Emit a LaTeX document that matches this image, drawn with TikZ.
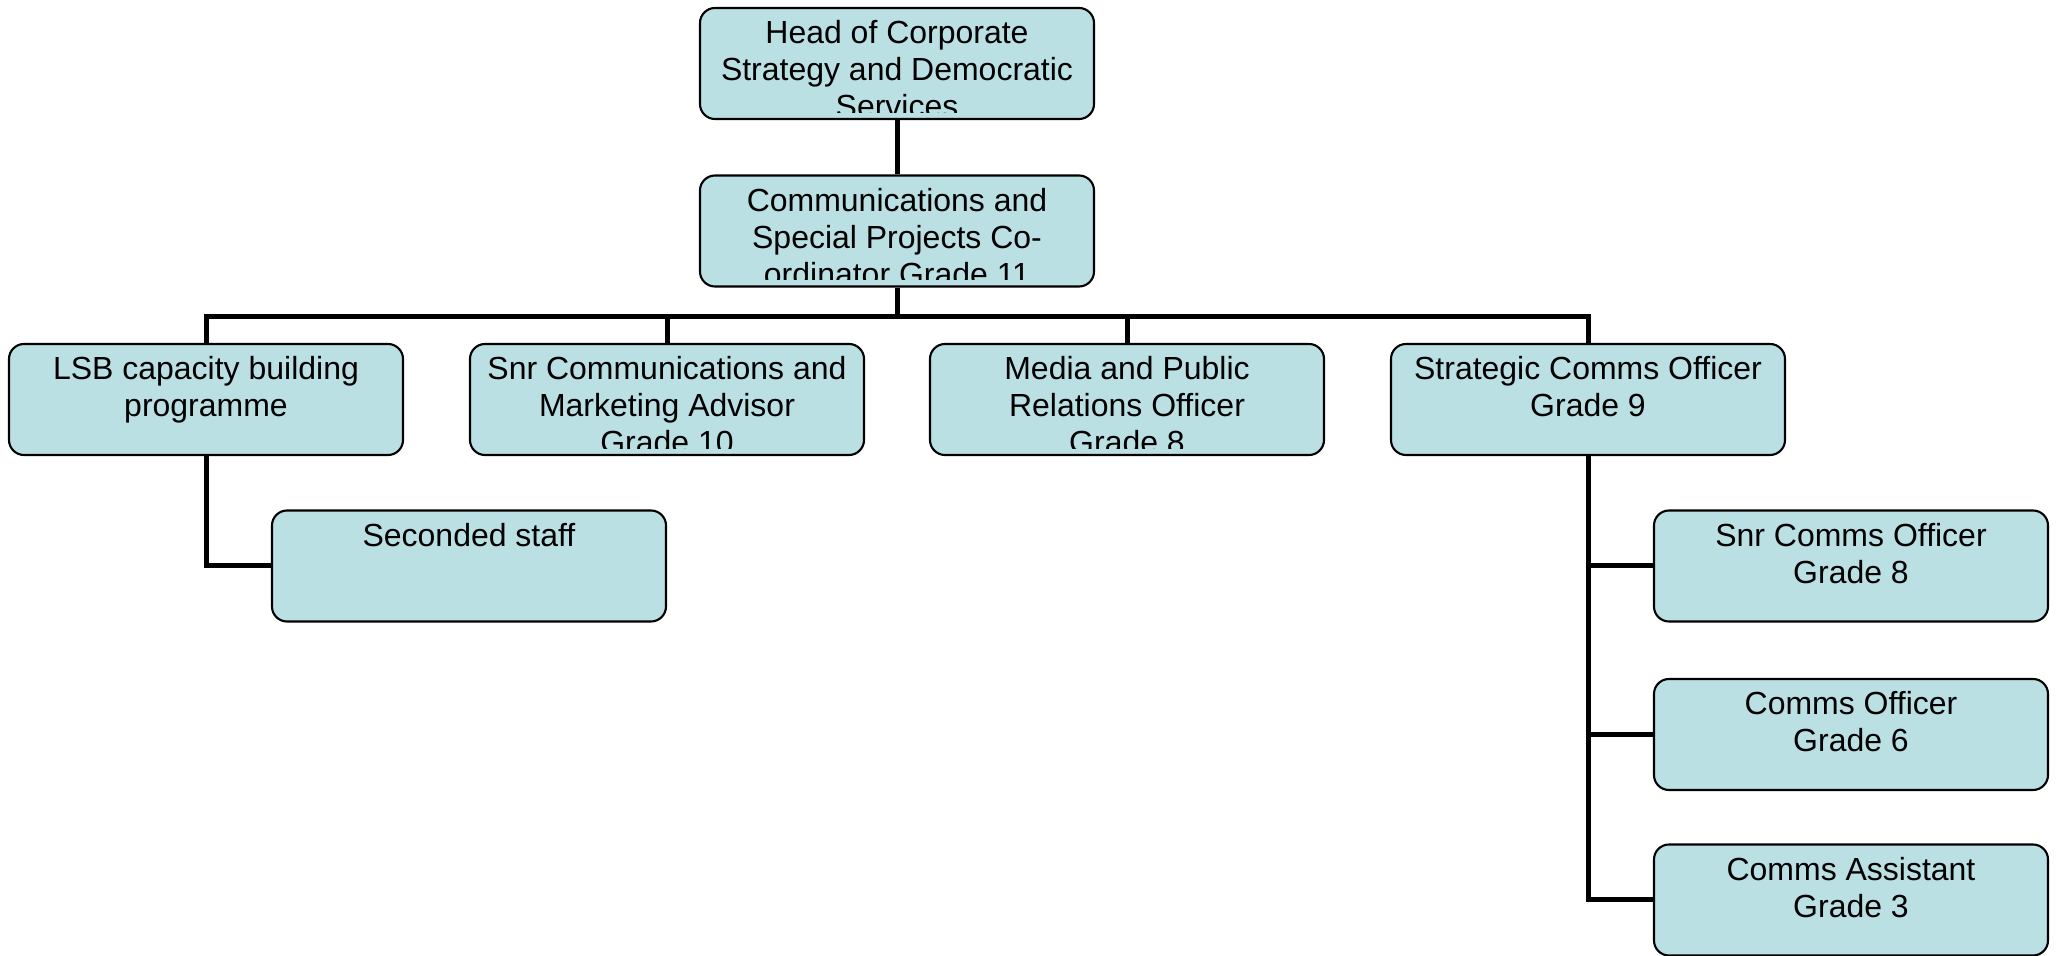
\documentclass[tikz,border=0pt]{standalone}
\usepackage{fontspec}
\setmainfont{Liberation Sans}
\usepackage{tikz}
\usetikzlibrary{positioning,calc}
\definecolor{boxblue}{RGB}{186,224,228}
\newcommand{\postfont}{\fontsize{9.1}{10.5}\selectfont}

\begin{document}
\begin{tikzpicture}[
  post/.style={rectangle, draw=black, line width=0.6pt, fill=boxblue, rounded corners=0.15cm,
    minimum width=3.94cm, minimum height=1.11cm, inner sep=0pt,
    path picture={
      \clip ([yshift=0.065cm]path picture bounding box.south west) rectangle (path picture bounding box.north east);
      \node[anchor=north, align=center, inner sep=0pt, minimum width=0pt, minimum height=0pt,
        draw=none, fill=none, font=\postfont]
        at ([yshift=-0.115cm]path picture bounding box.north) {#1};
    }},
  link/.style={line width=0.05cm}
]
\useasboundingbox (0,0) rectangle (20.6,-9.56);
\node[post={Head of Corporate\\Strategy and Democratic\\Services}] (head) at (8.97,-0.635) {};
\node[post={Communications and\\Special Projects Co-\\ordinator Grade 11}] (coord) at (8.97,-2.31) {};
\node[post={LSB capacity building\\programme}] (lsb) at (2.06,-3.995) {};
\node[post={Snr Communications and\\Marketing Advisor\\Grade 10}] (snr) at (6.67,-3.995) {};
\node[post={Media and Public\\Relations Officer\\Grade 8}] (media) at (11.27,-3.995) {};
\node[post={Strategic Comms Officer\\Grade 9}] (strat) at (15.88,-3.995) {};
\node[post={Seconded staff}] (sec) at (4.69,-5.66) {};
\node[post={Snr Comms Officer\\Grade 8}] (snrofficer) at (18.51,-5.66) {};
\node[post={Comms Officer\\Grade 6}] (officer) at (18.51,-7.345) {};
\node[post={Comms Assistant\\Grade 3}] (asst) at (18.51,-9.0) {};
\coordinate (bus) at (0,-3.17);
\draw[link] (head) -- (coord);
\draw[link] (coord.south) -- (coord.south |- bus);
\draw[link] (lsb.north) |- (strat.north |- bus) -- (strat.north);
\foreach \n in {snr,media} \draw[link] (\n.north) -- (\n.north |- bus);
\draw[link] (lsb.south) |- (sec.west);
\draw[link] (strat.south) |- (asst.west);
\foreach \n in {snrofficer,officer} \draw[link] (\n.west) -- (\n.west -| strat.south);
\end{tikzpicture}
\end{document}
